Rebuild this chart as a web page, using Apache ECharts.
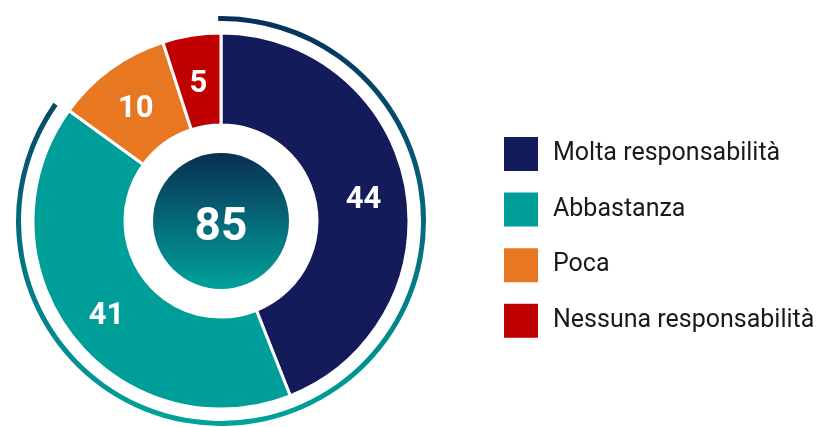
<!DOCTYPE html>
<html>
<head>
<meta charset="utf-8">
<script src="https://cdn.jsdelivr.net/npm/echarts@6/dist/echarts.min.js"></script>
<style>
html,body{margin:0;padding:0;background:#fff;}
#main{width:823px;height:427px;}
</style>
</head>
<body>
<div id="main"></div>
<script>
// Data
const categories = ['Molta responsabilità', 'Abbastanza', 'Poca', 'Nessuna responsabilità'];
const values = [44, 41, 10, 5];
const colors = ['#141b5b', '#009e99', '#e87722', '#c00000'];
const centerValue = 85;
const arcValues = [85, 15];

const chart = echarts.init(document.getElementById('main'), null, {renderer: 'canvas'});
const cx = 221, cy = 221;
const option = {
  animation: false,
  legend: {
    orient: 'vertical',
    left: 502,
    top: 135,
    padding: 0,
    itemWidth: 36,
    itemHeight: 36,
    itemGap: 17.6,
    icon: 'rect',
    selectedMode: false,
    textStyle: {fontFamily: 'Roboto', fontSize: 25, color: '#1a1a1a', padding: [2, 0, 0, 9]},
    data: categories
  },
  series: [
    {
      type: 'pie',
      center: [cx, cy],
      radius: [96, 188],
      startAngle: 90,
      clockwise: true,
      silent: true,
      itemStyle: {borderColor: '#ffffff', borderWidth: 3},
      label: {
        show: true,
        position: 'inside',
        formatter: '{p|}\n{v|{c}}',
        rich: {
          p: {height: 12, fontSize: 1},
          v: {color: '#ffffff', fontFamily: 'Roboto', fontWeight: 'bold', fontSize: 31}
        }
      },
      labelLine: {show: false},
      data: categories.map((n, i) => ({name: n, value: values[i], itemStyle: {color: colors[i]}}))
    },
    {
      type: 'pie',
      center: [cx, cy],
      radius: [200, 205],
      startAngle: 90.8,
      clockwise: true,
      silent: true,
      label: {show: false},
      labelLine: {show: false},
      data: [
        {value: arcValues[0], name: 'arc', itemStyle: {color: new echarts.graphic.LinearGradient(0, 0, 0, 1, [
          {offset: 0, color: '#06305a'}, {offset: 1, color: '#00a39c'}
        ])}},
        {value: arcValues[1], name: 'gap', itemStyle: {color: 'rgba(0,0,0,0)'}}
      ]
    },
    {
      type: 'pie',
      center: [cx, cy],
      radius: [0, 68],
      silent: true,
      label: {
        show: true,
        position: 'center',
        formatter: '{p|}\n{v|{c}}',
        rich: {
          p: {height: 14, fontSize: 1},
          v: {color: '#ffffff', fontFamily: 'Roboto', fontWeight: 'bold', fontSize: 46}
        }
      },
      labelLine: {show: false},
      data: [{value: centerValue, name: 'center', itemStyle: {color: new echarts.graphic.LinearGradient(0, 0, 0, 1, [
        {offset: 0, color: '#0a2f52'}, {offset: 1, color: '#00a29c'}
      ])}}]
    }
  ]
};
chart.setOption(option);
</script>
</body>
</html>
